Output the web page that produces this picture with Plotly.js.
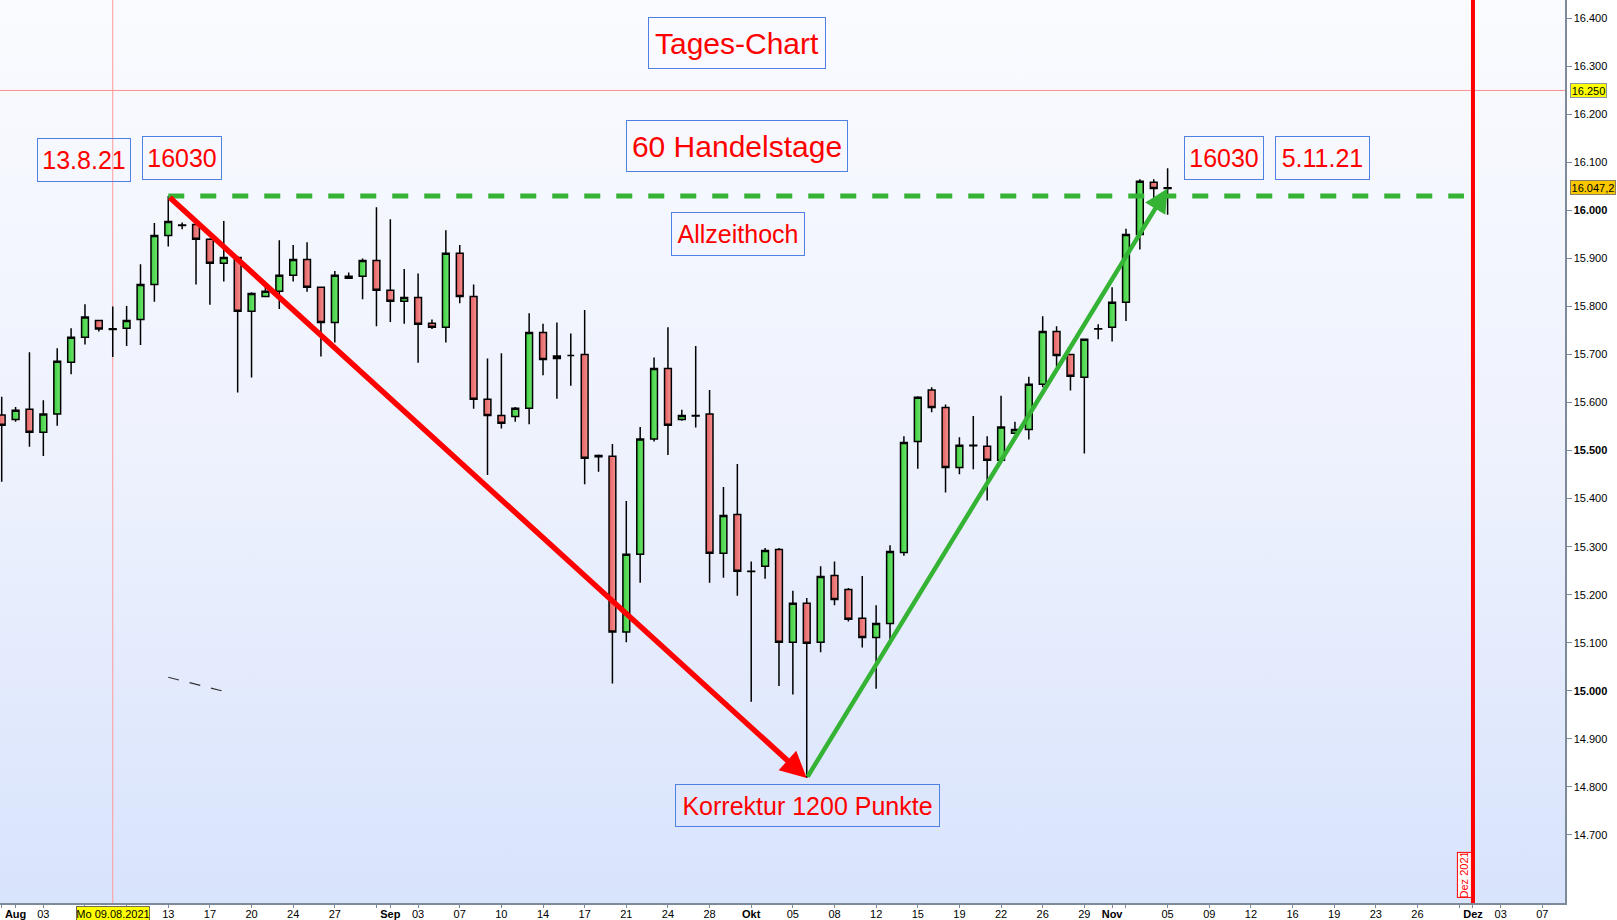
<!DOCTYPE html>
<html>
<head>
<meta charset="utf-8">
<script src="https://cdn.plot.ly/plotly-3.0.1.min.js"></script>
<style>
  html, body { margin: 0; padding: 0; background: #ffffff; overflow: hidden; }
  #wrap { position: relative; width: 1617px; height: 920px; background: #ffffff; }
  #bg { position: absolute; left: 0; top: 0; width: 1565px; height: 903px;
        background: linear-gradient(to bottom, #fafbff 0%, #eef2fd 50%, #d8e3fc 100%); }
  #chart { position: absolute; left: 0; top: 0; width: 1617px; height: 920px; }
</style>
</head>
<body>
<div id="wrap">
  <div id="bg"></div>
  <div id="chart"></div>
</div>
<script>
// Daily sessions (incl. the short weekend session), 30.07.2021 - 05.11.2021
const open  = [15574,15565,15586,15538,15576,15684,15736,15771,15754,15755,15773,15846,15948,15969,15971,15940,15890,15902,15790,15821,
               15832,15865,15898,15840,15767,15859,15863,15896,15834,15811,15819,15765,15757,15911,15821,15607,15573,15571,15588,15746,
               15692,15698,15700,15490,15488,15122,15284,15524,15671,15565,15573,15576,15286,15367,15249,15259,15294,15101,15182,15101,
               15240,15211,15151,15111,15140,15288,15519,15626,15590,15465,15510,15509,15480,15536,15544,15638,15748,15700,15653,15753,
               15757,15809,15950,16059,16046];
const high  = [15612,15591,15705,15605,15713,15755,15805,15772,15800,15801,15888,15974,16030,15975,15978,15942,15978,15903,15830,15841,
               15938,15928,15934,15841,15874,15871,15900,16007,15982,15878,15869,15773,15959,15928,15846,15692,15703,15591,15786,15764,
               15767,15744,15793,15492,15514,15395,15549,15694,15757,15585,15718,15626,15424,15472,15269,15297,15297,15208,15193,15259,
               15269,15214,15239,15178,15303,15530,15613,15632,15596,15528,15572,15530,15614,15560,15654,15780,15759,15701,15733,15763,
               15840,15962,16065,16065,16088];
const low   = [15435,15560,15508,15489,15552,15659,15721,15748,15695,15718,15720,15810,15925,15961,15846,15804,15852,15621,15652,15820,
               15795,15852,15831,15696,15725,15858,15815,15759,15768,15764,15683,15753,15725,15807,15587,15449,15546,15560,15555,15657,
               15608,15635,15430,15456,15015,15101,15225,15519,15491,15562,15548,15225,15235,15198,14977,15233,15010,14992,14818,15080,
               15178,15144,15090,15004,15106,15281,15462,15580,15413,15451,15461,15396,15478,15536,15523,15632,15675,15625,15494,15732,
               15727,15770,15919,16008,15991];
const close = [15553,15584,15538,15576,15686,15736,15778,15753,15752,15771,15846,15948,15977,15970,15940,15890,15902,15790,15827,15832,
               15865,15898,15840,15767,15865,15863,15896,15834,15811,15819,15763,15757,15911,15821,15607,15573,15557,15588,15746,15690,
               15697,15698,15484,15487,15122,15284,15524,15671,15553,15573,15572,15286,15365,15249,15248,15292,15101,15182,15099,15238,
               15190,15149,15111,15140,15290,15517,15611,15590,15465,15511,15511,15480,15549,15544,15638,15748,15698,15655,15732,15754,
               15809,15950,16061,16046,16047.2];

// Session index of each date label on the time axis
const tickIdx  = [0, 1, 3, 6, 9, 12, 15, 18, 21, 24, 27, 28, 30, 33, 36, 39, 42, 45, 48, 51, 54, 57, 60, 63, 66, 69, 72, 75, 78,
                  80, 81, 84, 87, 90, 93, 96, 99, 102, 105, 106, 108, 111];
const tickText = ['', '<b>Aug</b>', '03', '', '', '13', '17', '20', '24', '27', '', '<b>Sep</b>', '03', '07', '10', '14', '17', '21',
                  '24', '28', '<b>Okt</b>', '05', '08', '12', '15', '19', '22', '26', '29', '<b>Nov</b>', '', '05', '09', '12',
                  '16', '19', '23', '26', '', '<b>Dez</b>', '03', '07'];

// Price scale
const priceTicks = [14700,14800,14900,15000,15100,15200,15300,15400,15500,15600,15700,15800,15900,16000,16100,16200,16300,16400];
const priceText  = priceTicks.map(v => {
  const s = String(v).replace(/(\d{2})(\d{3})$/, '$1.$2');
  return (v % 500 === 0) ? '<b>' + s + '</b>' : s;
});

// Key levels and points
const allTimeHigh = 16030;       // 13.8.21
const athIdx = 12;
const lowIdx = 58;               // correction low
const lowPrice = 14818;
const lastIdx = 84;              // 5.11.21
const lastPrice = close[close.length - 1];
const crossPrice = 16250;
const crossIdx = 8;              // Mo 09.08.2021
const decIdx = 106;              // Dez 2021

const idx = open.map((_, i) => i);

const W = 1565, H = 903;         // plot area in px
const px = x => x / W;
const py = y => 1 - y / H;

const FONT = '"Liberation Sans", Arial, sans-serif';
const RED = '#ff0000';
const GREEN = '#35b335';
const BOXLINE = '#4f80e4';

function label(text, cx, cy, w, h, size) {
  return {
    text: text, xref: 'paper', yref: 'paper', x: px(cx), y: py(cy),
    xanchor: 'center', yanchor: 'middle', showarrow: false,
    width: w, height: h, borderpad: 0, borderwidth: 1, bordercolor: BOXLINE,
    font: {family: FONT, size: size, color: RED}
  };
}

const trace = {
  type: 'candlestick', x: idx, open: open, high: high, low: low, close: close,
  increasing: {line: {color: '#000000', width: 1.5}, fillcolor: '#58d858'},
  decreasing: {line: {color: '#000000', width: 1.5}, fillcolor: '#ec7474'},
  whiskerwidth: 0, hoverinfo: 'skip', showlegend: false
};

const layout = {
  width: 1617, height: 920,
  margin: {l: 0, r: 52, t: 0, b: 17, pad: 0},
  paper_bgcolor: 'rgba(0,0,0,0)', plot_bgcolor: 'rgba(0,0,0,0)',
  showlegend: false, boxgap: 0.3,
  font: {family: FONT, size: 11, color: '#000'},
  xaxis: {
    range: [-0.1225, 112.63], rangeslider: {visible: false},
    tickmode: 'array', tickvals: tickIdx, ticktext: tickText,
    ticks: 'outside', ticklen: 3, tickcolor: '#7d8a99', tickwidth: 1, ticklabelstandoff: -3,
    showline: true, linecolor: '#7d8a99', linewidth: 1.5,
    showgrid: false, zeroline: false, fixedrange: true,
    tickfont: {family: FONT, size: 11, color: '#000'}
  },
  yaxis: {
    side: 'right', range: [14557.9, 16438.4],
    tickmode: 'array', tickvals: priceTicks, ticktext: priceText,
    ticks: 'outside', ticklen: 5, tickcolor: '#7d8a99', tickwidth: 1,
    showline: true, linecolor: '#7d8a99', linewidth: 1.5,
    showgrid: false, zeroline: false, fixedrange: true,
    tickfont: {family: FONT, size: 11, color: '#000'}
  },
  shapes: [
    // crosshair
    {type: 'line', xref: 'paper', x0: 0, x1: 1, yref: 'y', y0: crossPrice, y1: crossPrice,
     line: {color: '#ff8f8f', width: 1}, layer: 'below'},
    {type: 'line', xref: 'x', x0: crossIdx, x1: crossIdx, yref: 'paper', y0: 0, y1: 1,
     line: {color: '#ff9a9a', width: 1}, layer: 'below'},
    // all-time-high level
    {type: 'line', xref: 'x', x0: athIdx, x1: 105.35, yref: 'y', y0: allTimeHigh, y1: allTimeHigh,
     line: {color: GREEN, width: 5, dash: '16px,16px'}},
    // month separator
    {type: 'line', xref: 'x', x0: decIdx, x1: decIdx, yref: 'paper', y0: 0, y1: 1,
     line: {color: RED, width: 4}},
    // short dashed trace
    {type: 'line', xref: 'x', x0: 12, x1: 16.23, yref: 'y', y0: 15028, y1: 14997,
     line: {color: '#333333', width: 1.2, dash: '11px,11px'}}
  ],
  annotations: [
    label('Tages-Chart', 737, 42.8, 176, 50, 30),
    label('60 Handelstage', 737, 146.4, 220, 50, 30),
    label('Allzeithoch', 737.5, 234.2, 132, 42, 25),
    label('13.8.21', 84, 159.5, 92, 42, 25),
    label(String(allTimeHigh), 181.5, 158.3, 78, 42, 25),
    label(String(allTimeHigh), 1224.2, 158.3, 78, 42, 25),
    label('5.11.21', 1322, 158.3, 93, 42, 25),
    label('Korrektur 1200 Punkte', 807, 805.5, 263, 41, 25),
    // correction arrow and recovery arrow
    {xref: 'x', yref: 'y', axref: 'x', ayref: 'y', x: lowIdx, y: lowPrice, ax: athIdx, ay: allTimeHigh,
     text: '', showarrow: true, arrowhead: 2, arrowsize: 0.95, arrowwidth: 5.5, arrowcolor: RED, standoff: 0},
    {xref: 'x', yref: 'y', axref: 'x', ayref: 'y', x: lastIdx, y: 16046, ax: lowIdx, ay: lowPrice,
     text: '', showarrow: true, arrowhead: 2, arrowsize: 1.05, arrowwidth: 4.5, arrowcolor: GREEN, standoff: 0},
    // price markers on the scale
    {xref: 'paper', yref: 'y', x: 1, y: crossPrice, xanchor: 'left', yanchor: 'middle', xshift: 5,
     text: '16.250', showarrow: false, bgcolor: '#ffff00', bordercolor: '#8a96a6', borderwidth: 1, borderpad: 0,
     width: 35, height: 13, font: {family: FONT, size: 11, color: '#000'}},
    {xref: 'paper', yref: 'y', x: 1, y: lastPrice, xanchor: 'left', yanchor: 'middle', xshift: 5,
     text: '16.047,2', showarrow: false, bgcolor: '#f9c800', bordercolor: '#8a8060', borderwidth: 1, borderpad: 0,
     width: 44, height: 13, font: {family: FONT, size: 11, color: '#000'}},
    // crosshair date marker
    {xref: 'x', yref: 'paper', x: crossIdx, y: 0, xanchor: 'center', yanchor: 'top', yshift: -3,
     text: 'Mo 09.08.2021', showarrow: false, bgcolor: '#ffff00', bordercolor: '#6f6f50', borderwidth: 1, borderpad: 0,
     width: 72, height: 13, font: {family: FONT, size: 11, color: '#000'}},
    // month marker
    {xref: 'paper', yref: 'paper', x: px(1464.4), y: py(874.5), xanchor: 'center', yanchor: 'middle',
     text: 'Dez 2021', textangle: -90, showarrow: false, bgcolor: '#ffffff', bordercolor: RED, borderwidth: 1, borderpad: 0,
     width: 44, height: 13, font: {family: FONT, size: 11, color: RED}}
  ]
};

Plotly.newPlot('chart', [trace], layout, {staticPlot: true, displayModeBar: false}).then(gd => {
  // shade the candle bodies left-to-right
  const svg = gd.querySelector('svg.main-svg');
  const ns = 'http://www.w3.org/2000/svg';
  const defs = document.createElementNS(ns, 'defs');
  const grads = {up: ['#3fcd3f', '#6fe76f'], down: ['#e25f5f', '#f69292']};
  Object.keys(grads).forEach(k => {
    const g = document.createElementNS(ns, 'linearGradient');
    g.setAttribute('id', 'body-' + k);
    g.setAttribute('x1', '0'); g.setAttribute('x2', '1'); g.setAttribute('y1', '0'); g.setAttribute('y2', '0');
    grads[k].forEach((c, i) => {
      const s = document.createElementNS(ns, 'stop');
      s.setAttribute('offset', i ? '1' : '0');
      s.setAttribute('stop-color', c);
      g.appendChild(s);
    });
    defs.appendChild(g);
  });
  svg.insertBefore(defs, svg.firstChild);
  gd.querySelectorAll('.boxlayer path').forEach(p => {
    const f = (p.style.fill || '').replace(/\s/g, '');
    if (f === 'rgb(88,216,88)') p.style.fill = 'url(#body-up)';
    else if (f === 'rgb(236,116,116)') p.style.fill = 'url(#body-down)';
  });
});
</script>
</body>
</html>
